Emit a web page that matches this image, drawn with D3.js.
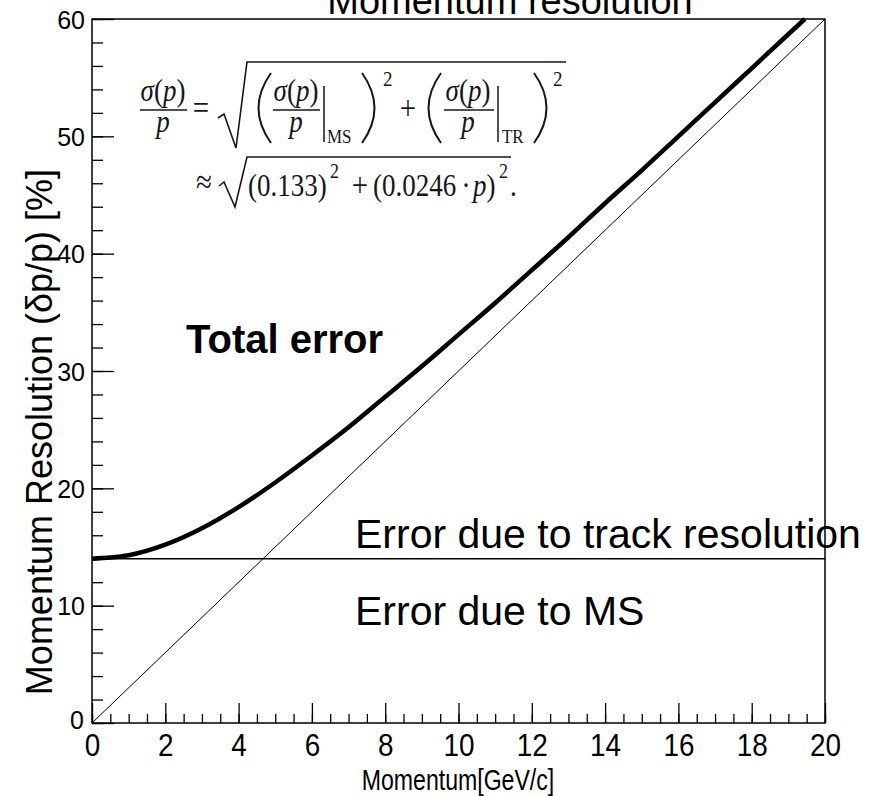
<!DOCTYPE html>
<html><head><meta charset="utf-8">
<script src="https://cdn.jsdelivr.net/npm/d3@7"></script>
<style>body{margin:0;background:#fff}svg{display:block}</style>
</head><body><svg id="c" width="895" height="796"></svg>
<script>
// ---- data ----
const xMajorTicks = [0, 2, 4, 6, 8, 10, 12, 14, 16, 18, 20];
const yMajorTicks = [0, 10, 20, 30, 40, 50, 60];
const totalMomentum = [0, 0.5, 1, 2, 3, 4, 5, 6, 7, 8, 9, 10, 11, 12, 13, 14, 15, 16, 17, 18, 19, 19.45];
const totalError    = [14.0, 14.1, 14.3, 15.2, 16.6, 18.4, 20.5, 22.8, 25.2, 27.8, 30.4, 33.1, 35.8, 38.6, 41.4, 44.3, 47.1, 50.0, 52.9, 55.8, 58.7, 60.0];
const msMomentum = [0, 20];
const msError    = [14, 14];
const trMomentum = [0, 20];
const trError    = [0, 60];
const titleText = "Momentum resolution";
const xTitle = "Momentum[GeV/c]";
const yTitle = "Momentum Resolution (\u03b4p/p) [%]";

const svg = d3.select("#c");
const L = 92, R = 825, T = 19, B = 723;
const x = d3.scaleLinear().domain([0, 20]).range([L, R]);
const y = d3.scaleLinear().domain([0, 60]).range([B, T]);
const font = "'Liberation Sans', Arial, sans-serif";

// title (cut off at top, as in the reference)
svg.append("text").attr("x", 510).attr("y", 14).attr("text-anchor", "middle")
  .attr("font-family", font).attr("font-size", 38).text(titleText);

// axes ticks
const gx = svg.append("g").attr("transform", `translate(0,${B})`);
gx.call(d3.axisBottom(x).tickValues(d3.range(0, 20.001, 0.5)).tickSize(-9).tickFormat(""));
const gx2 = svg.append("g").attr("transform", `translate(0,${B})`);
gx2.call(d3.axisBottom(x).tickValues(xMajorTicks).tickSize(-20).tickPadding(0).tickFormat(d3.format("d")));
const gy = svg.append("g").attr("transform", `translate(${L},0)`);
gy.call(d3.axisLeft(y).tickValues(d3.range(0, 60.001, 2)).tickSize(-11).tickFormat(""));
const gy2 = svg.append("g").attr("transform", `translate(${L},0)`);
gy2.call(d3.axisLeft(y).tickValues(yMajorTicks).tickSize(-22).tickPadding(0).tickFormat(d3.format("d")));
svg.selectAll(".domain").remove();
svg.selectAll(".tick line").attr("stroke", "#000").attr("stroke-width", 1.3);
gx2.selectAll(".tick text").attr("font-family", font).attr("font-size", 31).attr("fill", "#000")
  .attr("dy", 0).attr("y", 0).attr("transform", "translate(0,33) scale(0.9,1.04)");
gy2.selectAll(".tick text").attr("font-family", font).attr("font-size", 25).attr("fill", "#000")
  .attr("x", -7).attr("dy", "0.36em");
gy2.selectAll(".tick").filter(d => d === 0).select("text").attr("x", -8).attr("dy", "0.2em");

// curves
const line = d3.line().x(d => x(d[0])).y(d => y(d[1]));
svg.append("path").datum(trMomentum.map((m, i) => [m, trError[i]]))
  .attr("d", line).attr("fill", "none").attr("stroke", "#000").attr("stroke-width", 1);
svg.append("path").datum(msMomentum.map((m, i) => [m, msError[i]]))
  .attr("d", line).attr("fill", "none").attr("stroke", "#000").attr("stroke-width", 1.5);
svg.append("path").datum(totalMomentum.map((m, i) => [m, totalError[i]]))
  .attr("d", line.curve(d3.curveMonotoneX)).attr("fill", "none").attr("stroke", "#000")
  .attr("stroke-width", 4.5).attr("stroke-linecap", "butt");

// annotations
svg.append("text").attr("x", 186).attr("y", 353).attr("font-family", font).attr("font-weight", "bold")
  .attr("font-size", 40).text("Total error");
svg.append("text").attr("x", 355).attr("y", 548).attr("font-family", font)
  .attr("font-size", 41).text("Error due to track resolution");
svg.append("text").attr("x", 355).attr("y", 625).attr("font-family", font)
  .attr("font-size", 41).text("Error due to MS");

// frame
svg.append("rect").attr("x", L).attr("y", T).attr("width", R - L).attr("height", B - T)
  .attr("fill", "none").attr("stroke", "#000").attr("stroke-width", 1.5);

// axis titles
svg.append("text").attr("transform", "translate(458,790) scale(0.77,1)").attr("text-anchor", "middle")
  .attr("font-family", font).attr("font-size", 30).text(xTitle);
svg.append("text").attr("transform", "translate(52,432) rotate(-90)").attr("text-anchor", "middle")
  .attr("font-family", font).attr("font-size", 36).text(yTitle);

// formula
const SY = 1.15;
const f = svg.append("g").attr("font-family", "'Liberation Serif','Times New Roman',serif").attr("fill", "#151520");
const st = f.append("g").attr("stroke", "#151520").attr("fill", "none");
function txt(px, py, size, anchor) {
  return f.append("text").attr("transform", `translate(${px},${py}) scale(1,${SY})`)
    .attr("text-anchor", anchor || "start").attr("font-size", size);
}
function frac(cx, xl, xr) {
  const n = txt(cx, 101, 27, "middle");
  n.append("tspan").attr("font-style", "italic").text("\u03c3");
  n.append("tspan").text("(");
  n.append("tspan").attr("font-style", "italic").text("p");
  n.append("tspan").text(")");
  st.append("line").attr("x1", xl).attr("x2", xr).attr("y1", 110).attr("y2", 110).attr("stroke-width", 1.5);
  txt(cx, 132, 27, "middle").attr("font-style", "italic").text("p");
}
frac(163, 140, 187);
txt(201, 119, 29, "middle").text("=");
st.append("path").attr("d", "M218,118 L224,114 L236,148 L247,62 L566,62").attr("stroke-width", 1.6);
st.append("path").attr("d", "M271,73 Q246,108 271,143").attr("stroke-width", 2);
frac(296, 273, 320);
st.append("line").attr("x1", 324).attr("x2", 324).attr("y1", 86).attr("y2", 142).attr("stroke-width", 1.5);
txt(327, 143, 17).text("MS");
st.append("path").attr("d", "M362,73 Q387,108 362,143").attr("stroke-width", 2);
txt(383, 86, 19).text("2");
txt(408, 119, 29, "middle").text("+");
st.append("path").attr("d", "M441,73 Q416,108 441,143").attr("stroke-width", 2);
frac(468, 444, 494);
st.append("line").attr("x1", 498).attr("x2", 498).attr("y1", 86).attr("y2", 142).attr("stroke-width", 1.5);
txt(502, 143, 17).text("TR");
st.append("path").attr("d", "M534,73 Q559,108 534,143").attr("stroke-width", 2);
txt(553, 86, 19).text("2");
// line 2
txt(204, 193, 29, "middle").text("\u2248");
st.append("path").attr("d", "M219,186 L224,182 L235,207 L247,157 L511,157").attr("stroke-width", 1.6);
txt(248, 196, 27).text("(0.133)");
txt(330, 178, 18).text("2");
txt(360, 196, 29, "middle").text("+");
txt(373, 196, 27).text("(0.0246");
txt(466, 196, 27, "middle").text("\u00b7");
const t3 = txt(473, 196, 27);
t3.append("tspan").attr("font-style", "italic").text("p");
t3.append("tspan").text(")");
txt(499, 178, 18).text("2");
txt(510, 196, 27).text(".");
</script></body></html>
